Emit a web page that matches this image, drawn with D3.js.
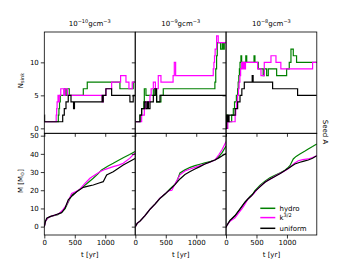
<!DOCTYPE html>
<html><head><meta charset="utf-8">
<script src="https://cdn.jsdelivr.net/npm/d3@7"></script>
<style>body{margin:0;background:#fff}text{font-family:"DejaVu Sans",sans-serif;fill:#000}</style>
</head><body><svg id="c" width="352" height="264"></svg>
<script>
// ---- data ----
const colTitles = [["10","−10"],["10","−9"],["10","−8"]];
const seriesNames = ["hydro","k3/2","uniform"];
const seriesColors = ["#008000","#ff00ff","#000000"];
const xTicks = [0,500,1000];
const yTicksN = [0,5,10];
const yTicksM = [0,10,20,30,40,50];

// N_sink step data [t, N]
const nHydro1 = [[0,1],[230,2],[240,3],[250,4],[262,5],[328,6],[345,5],[370,6],[410,5],[640,6],[705,7],[1241,6],[1459,7],[1490,7]];
const nK1 = [[0,1],[195,2],[203,3],[210,4],[225,5],[235,4],[245,5],[270,6],[320,5],[340,6],[380,5],[950,4],[965,5],[1011,6],[1105,7],[1252,8],[1340,7],[1389,6],[1443,7],[1490,7]];
const nUni1 = [[0,2],[5,1],[302,2],[328,3],[356,4],[393,5],[438,4],[480,3],[495,4],[950,5],[960,4],[967,5],[1011,6],[1105,5],[1405,4],[1459,5],[1490,5]];

const nHydro2 = [[0,1],[77,2],[104,3],[140,4],[148,6],[175,5],[296,6],[330,5],[350,4],[421,5],[459,6],[1306,7],[1320,9],[1334,11],[1345,13],[1400,12],[1427,13],[1440,12],[1460,13],[1490,13]];
const nK2 = [[0,1],[104,2],[148,3],[175,4],[241,5],[260,6],[296,7],[330,6],[377,8],[421,7],[620,8],[640,10],[662,8],[1279,9],[1290,10],[1300,11],[1310,12],[1334,14],[1361,13],[1490,13]];
const nUni2 = [[0,1],[77,2],[104,3],[148,4],[175,3],[200,4],[215,3],[241,4],[296,5],[323,6],[350,4],[405,5],[1490,5]];

const nHydro3 = [[0,0],[11,2],[30,1],[93,2],[120,3],[140,4],[170,5],[190,6],[200,7],[210,8],[220,9],[230,10],[245,11],[257,10],[325,11],[340,10],[460,11],[475,10],[530,9],[610,8],[625,9],[667,8],[694,9],[831,8],[995,9],[1038,10],[1066,12],[1104,11],[1158,10],[1490,10]];
const nK3 = [[0,0],[30,1],[150,2],[160,3],[175,4],[190,5],[205,6],[215,7],[228,8],[240,9],[257,10],[275,9],[290,10],[305,9],[320,10],[519,9],[574,8],[628,10],[738,11],[820,10],[900,9],[1421,10],[1490,10]];
const nUni3 = [[0,0],[11,2],[30,1],[50,2],[80,2],[150,3],[191,4],[230,5],[260,6],[300,7],[430,8],[445,7],[765,6],[1175,5],[1490,5]];

// Mass data [t, M]
const mHydro1 = [[0,0],[20,3],[57,4.8],[120,5.8],[222,6.6],[300,8.5],[339,9.8],[400,14],[449,17.4],[540,19.5],[640,22],[720,24.3],[803,26.6],[880,29],[940,31.2],[1040,33.2],[1131,34.8],[1220,36.5],[1295,37.9],[1400,39.6],[1490,41.3]];
const mK1 = [[0,0],[20,3],[57,4.8],[120,5.8],[222,6.8],[257,7.6],[310,9.5],[367,12],[420,16],[449,18.3],[520,19.3],[585,20.6],[660,23.5],[749,26.6],[830,28.4],[913,30.2],[1000,31.5],[1131,33],[1220,33.8],[1295,34.8],[1400,37.5],[1490,40.5]];
const mUni1 = [[0,0],[20,3],[39,4.6],[93,5.5],[175,6.4],[285,7.7],[339,10.1],[393,14.7],[460,17],[531,19.2],[640,21.6],[720,22.3],[803,22.9],[900,24],[967,24.7],[1023,28.4],[1131,30.2],[1210,32],[1295,33.9],[1400,35.8],[1490,37.5]];

const mHydro2 = [[0,0],[30,1.8],[77,3],[159,6.1],[240,9.5],[323,12.4],[400,15.3],[487,17.9],[570,20.7],[651,23.4],[690,25.5],[733,29.5],[815,31.2],[900,32.6],[979,33.5],[1060,34.3],[1143,35],[1230,35.8],[1306,36.6],[1360,38],[1427,40.8],[1490,44.3]];
const mK2 = [[0,0],[30,1.8],[77,3],[159,6.1],[240,9.5],[323,12.4],[400,15.5],[487,18],[541,19.6],[600,20],[651,23.4],[733,28.5],[815,30.6],[900,31.7],[979,32.6],[1060,33.5],[1143,34.4],[1230,35.5],[1306,36.6],[1370,39.5],[1427,42.5],[1490,46.8]];
const mUni2 = [[0,0],[30,1.8],[77,3],[159,6.1],[240,9.5],[323,12.4],[400,15.4],[487,17.9],[570,20.5],[651,23.1],[733,26.2],[815,28.6],[900,30.3],[979,31.7],[1060,33],[1143,34.4],[1230,35.6],[1306,36.6],[1370,37.8],[1427,39],[1490,40.2]];

const mHydro3 = [[0,-0.5],[11,0.5],[66,3.4],[148,5.8],[230,9.5],[311,13.4],[393,16.6],[448,18.3],[475,19.8],[560,22.8],[639,25],[720,26.8],[803,28.2],[900,29.8],[967,31],[1020,32.5],[1049,33.5],[1104,37.2],[1150,38.6],[1213,39.9],[1290,41.4],[1350,42.7],[1420,44],[1490,45.4]];
const mK3 = [[0,-0.5],[11,0.5],[66,3],[148,4.8],[202,7.3],[260,9.8],[311,12.4],[360,15.2],[393,16.1],[448,17.9],[520,20.8],[600,23.3],[680,25.3],[760,26.8],[850,28.6],[940,30.2],[1020,31.8],[1077,33.5],[1130,35],[1186,36.2],[1260,36.8],[1350,37.2],[1420,38],[1490,39]];
const mUni3 = [[0,-0.5],[11,0.5],[66,3.4],[148,6.1],[230,9.7],[311,13.4],[360,15.2],[421,17],[475,19.4],[560,22],[639,24.4],[720,26],[803,27.5],[890,29.2],[967,30.8],[1050,32.6],[1131,34.4],[1213,35.4],[1280,36],[1350,36.6],[1420,37.6],[1490,39]];

const nSets = [[nHydro1,nK1,nUni1],[nHydro2,nK2,nUni2],[nHydro3,nK3,nUni3]];
const mSets = [[mHydro1,mK1,mUni1],[mHydro2,mK2,mUni2],[mHydro3,mK3,mUni3]];

// ---- layout ----
const svg = d3.select("#c");
const colX = [44.3, 135.3, 226];
const panelW = 90.8;
const topY0 = 32, midY = 133.3, botY1 = 235;
const fs = 7;

const yN = d3.scaleLinear().domain([-0.75,14.6]).range([midY, topY0]);
const yM = d3.scaleLinear().domain([-4.6,51.3]).range([botY1, midY]);

function drawPanel(cx, y, yTicks, data, curve, row, colIdx){
  const x = d3.scaleLinear().domain([0,1490]).range([cx, cx+panelW]);
  const g = svg.append("g");
  const clipId = "clip"+row+colIdx;
  svg.append("clipPath").attr("id",clipId).append("rect")
     .attr("x",cx).attr("y",y.range()[1]).attr("width",panelW).attr("height",y.range()[0]-y.range()[1]);
  const line = d3.line().x(d=>x(d[0])).y(d=>y(d[1])).curve(curve);
  const lg = g.append("g").attr("clip-path","url(#"+clipId+")");
  data.forEach((s,i)=>{
    lg.append("path").attr("d",line(s)).attr("fill","none")
      .attr("stroke",seriesColors[i]).attr("stroke-width",1.2);
  });
  // y axis
  const ya = d3.axisLeft(y).tickValues(yTicks).tickSize(3.5).tickPadding(2)
     .tickFormat(colIdx===0? d3.format("d") : "");
  const yg = g.append("g").attr("transform",`translate(${cx},0)`).call(ya);
  yg.select(".domain").remove();
  yg.selectAll("line").attr("stroke","#000").attr("stroke-width",0.8);
  yg.selectAll("text").attr("font-size",fs).attr("font-family","DejaVu Sans");
  // x axis
  const xa = d3.axisBottom(x).tickValues(xTicks).tickSize(3.5).tickPadding(2)
     .tickFormat(row===1? d3.format("d") : "");
  const xg = g.append("g").attr("transform",`translate(0,${y.range()[0]})`).call(xa);
  xg.select(".domain").remove();
  xg.selectAll("line").attr("stroke","#000").attr("stroke-width",0.8);
  xg.selectAll("text").attr("font-size",fs).attr("font-family","DejaVu Sans");
  // frame
  g.append("rect").attr("x",cx).attr("y",y.range()[1]).attr("width",panelW)
   .attr("height",y.range()[0]-y.range()[1]).attr("fill","none").attr("stroke","#000").attr("stroke-width",0.8);
  return x;
}

for(let c=0;c<3;c++){
  drawPanel(colX[c], yN, yTicksN, nSets[c], d3.curveStepAfter, 0, c);
  drawPanel(colX[c], yM, yTicksM, mSets[c], d3.curveLinear, 1, c);
  // column title
  const t = svg.append("text").attr("x",colX[c]+panelW/2).attr("y",26).attr("text-anchor","middle").attr("font-size",fs);
  t.append("tspan").text(colTitles[c][0]);
  t.append("tspan").attr("dy",-3).attr("font-size",5).text(colTitles[c][1]);
  t.append("tspan").attr("dy",3).text("gcm");
  t.append("tspan").attr("dy",-3).attr("font-size",5).text("−3");
  // x label
  svg.append("text").attr("x",colX[c]+panelW/2).attr("y",257).attr("text-anchor","middle").attr("font-size",fs).text("t [yr]");
}

// y labels
const ny = svg.append("text").attr("transform","translate(22.5,80.5) rotate(-90)").attr("text-anchor","middle").attr("font-size",fs);
ny.append("tspan").text("N");
ny.append("tspan").attr("dy",1.5).attr("font-size",5).text("sink");
const my = svg.append("text").attr("transform","translate(22.5,181) rotate(-90)").attr("text-anchor","middle").attr("font-size",fs);
my.append("tspan").text("M [M");
my.append("tspan").attr("dy",1.5).attr("font-size",5).text("⊙");
my.append("tspan").attr("dy",-1.5).text("]");

// Seed A
svg.append("text").attr("transform","translate(323,132) rotate(90)").attr("text-anchor","middle").attr("font-size",fs).text("Seed A");

// legend
const legY = [208.3,217.6,228.3];
seriesNames.forEach((n,i)=>{
  svg.append("line").attr("x1",260.3).attr("x2",275.3).attr("y1",legY[i]).attr("y2",legY[i])
     .attr("stroke",seriesColors[i]).attr("stroke-width",1.5);
  const t = svg.append("text").attr("x",279.5).attr("y",legY[i]+2.5).attr("font-size",fs);
  if(i===1){
    t.append("tspan").text("k");
    t.append("tspan").attr("dy",-3).attr("font-size",5).text("3/2");
  } else t.text(n);
});
</script></body></html>
